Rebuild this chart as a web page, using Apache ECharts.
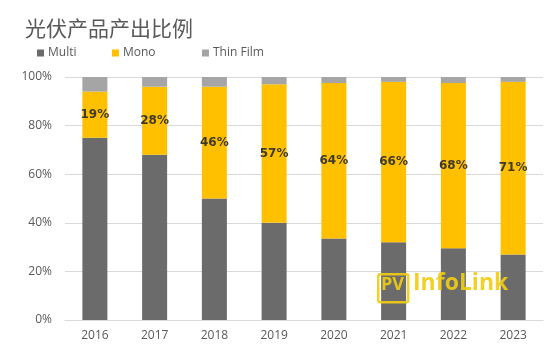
<!DOCTYPE html>
<html>
<head>
<meta charset="utf-8">
<script src="https://cdn.jsdelivr.net/npm/echarts@6/dist/echarts.min.js"></script>
<style>html,body{margin:0;padding:0;background:#fff}#c{width:558px;height:356px}</style>
</head>
<body>
<div id="c"></div>
<script>
var categories = ['2016','2017','2018','2019','2020','2021','2022','2023'];
var multi = [75, 68, 50, 40, 33.5, 32, 29.5, 27];
var mono = [19, 28, 46, 57, 64, 66, 68, 71];
var thin = [6, 4, 4, 3, 2.5, 2, 2.5, 2];
var yTicks = [0, 20, 40, 60, 80, 100];

var txt = '#595959';
var ff = '"Open Sans", "Noto Sans", sans-serif';
var wm = 'rgba(240,205,20,0.92)';
var chart = echarts.init(document.getElementById('c'));
function leg(name, left) {
  return {
    data: [name], left: left, top: 47, icon: 'rect', itemWidth: 7, itemHeight: 7, itemGap: 0,
    textStyle: {color: txt, fontSize: 12, fontFamily: ff, padding: [0,0,0,-1]}, padding: 0
  };
}
chart.setOption({
  animation: false,
  title: {
    text: '光伏产品产出比例', left: 20, top: 13,
    textStyle: {fontFamily: '"Noto Sans CJK SC", sans-serif', fontSize: 21, fontWeight: 'normal', color: txt}
  },
  legend: [leg('Multi', 37), leg('Mono', 112), leg('Thin Film', 202)],
  grid: {left: 65, right: 15, top: 77, bottom: 36},
  xAxis: {
    type: 'category', data: categories,
    axisLine: {lineStyle: {color: '#d9d9d9'}}, axisTick: {show: false},
    axisLabel: {color: txt, fontSize: 12, fontFamily: ff, margin: 10}
  },
  yAxis: {
    type: 'value', min: yTicks[0], max: yTicks[yTicks.length-1], interval: 20,
    axisLine: {show: false}, axisTick: {show: false},
    splitLine: {lineStyle: {color: '#d9d9d9'}},
    axisLabel: {color: txt, fontSize: 12, fontFamily: ff, margin: 13, formatter: '{value}%'}
  },
  series: [
    {name: 'Multi', type: 'bar', stack: 's', data: multi, barWidth: 25, itemStyle: {color: '#6b6b6b'}},
    {name: 'Mono', type: 'bar', stack: 's', data: mono, barWidth: 25, itemStyle: {color: '#ffc000'},
     label: {show: true, position: 'inside', formatter: '{c}%', color: '#3f3a2a', fontWeight: 'bold', fontSize: 12, fontFamily: '"DejaVu Sans", sans-serif'}},
    {name: 'Thin Film', type: 'bar', stack: 's', data: thin, barWidth: 25, itemStyle: {color: '#a5a5a5'}}
  ],
  graphic: [
    {type: 'rect', left: 377, top: 273, z: 100, silent: true,
     shape: {width: 30, height: 28, r: 2}, style: {fill: 'rgba(255,255,255,0)', stroke: wm, lineWidth: 2.5}},
    {type: 'text', left: 381, top: 276, z: 101, silent: true,
     style: {text: 'PV', fill: wm, fontSize: 18, fontWeight: 'bold', fontFamily: '"Open Sans", sans-serif'}},
    {type: 'text', left: 413, top: 272, z: 101, silent: true,
     style: {text: 'InfoLink', fill: wm, fontSize: 23, fontWeight: 'bold', fontFamily: '"Open Sans", sans-serif'}}
  ]
});
</script>
</body>
</html>
